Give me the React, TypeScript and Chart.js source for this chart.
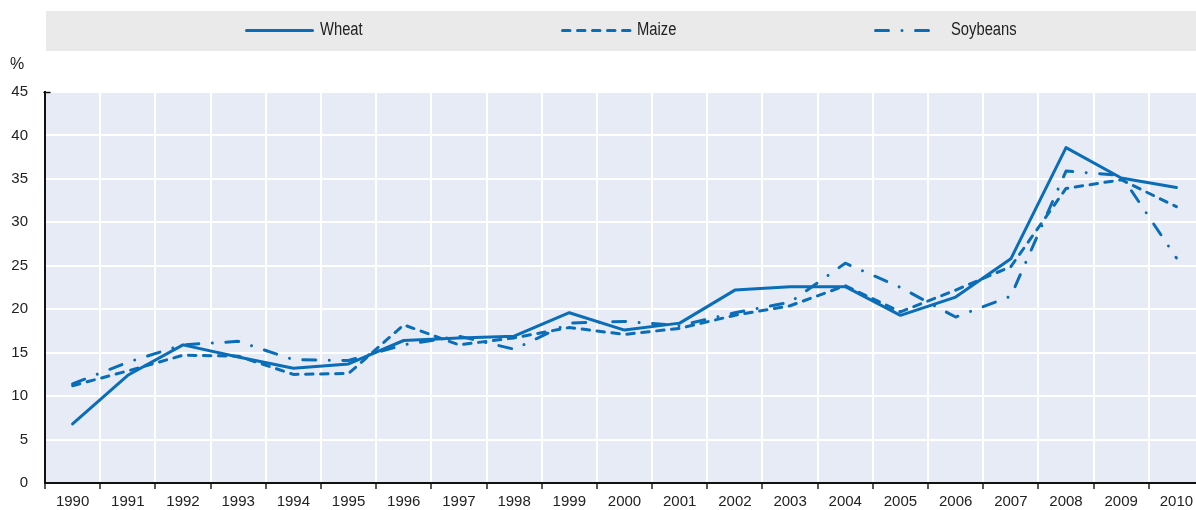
import React, { useEffect, useRef } from "react";
import { Chart, registerables } from "chart.js";

Chart.register(...registerables);

const categories = [
  "1990", "1991", "1992", "1993", "1994", "1995", "1996", "1997", "1998", "1999",
  "2000", "2001", "2002", "2003", "2004", "2005", "2006", "2007", "2008", "2009", "2010",
];
const wheat = [6.8, 12.4, 15.9, 14.5, 13.2, 13.7, 16.4, 16.7, 16.9, 19.6, 17.6, 18.4, 22.2, 22.6, 22.6, 19.3, 21.4, 25.8, 38.6, 35.1, 34.0];
const maize = [11.2, 12.9, 14.7, 14.6, 12.5, 12.6, 18.2, 15.9, 16.7, 17.9, 17.1, 17.8, 19.3, 20.4, 22.7, 19.7, 22.2, 24.9, 33.9, 34.9, 31.8];
const soybeans = [11.4, 13.9, 15.9, 16.3, 14.2, 14.1, 15.9, 16.9, 15.4, 18.4, 18.6, 18.1, 19.6, 20.8, 25.3, 22.5, 19.1, 21.5, 35.9, 35.4, 25.9];
const seriesNames = ["Wheat", "Maize", "Soybeans"];
const yMin = 0;
const yMax = 45;
const yStep = 5;
const unitLabel = "%";

const FONT = '"Liberation Sans Narrow", "Arial Narrow", "Liberation Sans", Arial, sans-serif';
const BLUE = "#0A6DB8";
const TEXT = "#222222";

const legendLayout = [
  { x: 245, len: 69, textX: 320 },
  { x: 561, len: 71, textX: 637 },
  { x: 874, len: 59, textX: 951 },
];

const decorPlugin = {
  id: "decor",
  beforeDraw(chart: any) {
    const { ctx, chartArea } = chart;
    ctx.save();
    ctx.fillStyle = "#ffffff";
    ctx.fillRect(0, 0, chart.width, chart.height);
    ctx.fillStyle = "#EAEAEA";
    ctx.fillRect(46, 11, chart.width - 46, 40);
    ctx.fillStyle = "#E7EBF6";
    ctx.fillRect(chartArea.left, chartArea.top, chartArea.right - chartArea.left, chartArea.bottom - chartArea.top);
    ctx.restore();
  },
  afterDraw(chart: any) {
    const { ctx, chartArea } = chart;
    ctx.save();
    // legend
    chart.data.datasets.forEach((ds: any, i: number) => {
      const L = legendLayout[i];
      const y = 30.5;
      ctx.strokeStyle = ds.borderColor;
      ctx.lineWidth = ds.borderWidth;
      ctx.lineCap = "round";
      ctx.setLineDash(ds.borderDash || []);
      ctx.beginPath();
      ctx.moveTo(L.x + 1.5, y);
      ctx.lineTo(L.x + L.len - 1.5, y);
      ctx.stroke();
      ctx.setLineDash([]);
      ctx.save();
      ctx.translate(L.textX, 30);
      ctx.scale(0.82, 1);
      ctx.fillStyle = TEXT;
      ctx.font = `18px ${FONT}`;
      ctx.textAlign = "left";
      ctx.textBaseline = "middle";
      ctx.fillText(ds.label, 0, 0);
      ctx.restore();
    });
    // unit label
    ctx.fillStyle = TEXT;
    ctx.font = `16px ${FONT}`;
    ctx.textAlign = "left";
    ctx.textBaseline = "middle";
    ctx.fillText(unitLabel, 10, chartArea.top - 27);
    // small stub at top of y axis
    ctx.strokeStyle = "#111";
    ctx.lineWidth = 1.5;
    ctx.beginPath();
    ctx.moveTo(chartArea.left - 1, chartArea.top + 0.5);
    ctx.lineTo(chartArea.left + 5, chartArea.top + 0.5);
    ctx.stroke();
    ctx.restore();
  },
};

export default function App() {
  const canvasRef = useRef<HTMLCanvasElement | null>(null);

  useEffect(() => {
    if (!canvasRef.current) return;
    const chart = new Chart(canvasRef.current, {
      type: "line",
      data: {
        labels: categories,
        datasets: [
          {
            label: seriesNames[0],
            data: wheat,
            borderColor: BLUE,
            borderWidth: 3,
            borderCapStyle: "round",
            borderJoinStyle: "round",
            pointRadius: 0,
            tension: 0,
            fill: false,
          },
          {
            label: seriesNames[1],
            data: maize,
            borderColor: BLUE,
            borderWidth: 3,
            borderDash: [7.5, 7.5],
            borderCapStyle: "round",
            borderJoinStyle: "round",
            pointRadius: 0,
            tension: 0,
            fill: false,
          },
          {
            label: seriesNames[2],
            data: soybeans,
            borderColor: BLUE,
            borderWidth: 3,
            borderDash: [13, 13.5, 0.01, 13.5],
            borderCapStyle: "round",
            borderJoinStyle: "round",
            pointRadius: 0,
            tension: 0,
            fill: false,
          },
        ],
      },
      options: {
        responsive: true,
        maintainAspectRatio: false,
        animation: false,
        layout: { padding: { top: 92, right: 6, bottom: 0, left: 0 } },
        plugins: {
          legend: { display: false },
          tooltip: { enabled: false },
        },
        scales: {
          x: {
            type: "category",
            offset: true,
            grid: {
              offset: true,
              color: "#ffffff",
              lineWidth: 2,
              drawTicks: true,
              tickLength: 6,
              tickColor: "#222222",
              tickWidth: 1.5,
            },
            border: { display: true, color: "#111111", width: 2 },
            ticks: {
              color: TEXT,
              font: { family: FONT, size: 15 },
              padding: 4,
              maxRotation: 0,
              autoSkip: false,
            },
            afterFit(scale: any) {
              scale.height = 27;
            },
          },
          y: {
            min: yMin,
            max: yMax,
            grid: {
              color: "#ffffff",
              lineWidth: 2,
              drawTicks: false,
            },
            border: { display: true, color: "#111111", width: 2 },
            ticks: {
              stepSize: yStep,
              color: TEXT,
              font: { family: FONT, size: 15 },
              padding: 17,
            },
            afterFit(scale: any) {
              scale.width = 45;
            },
          },
        },
      },
      plugins: [decorPlugin],
    });
    return () => chart.destroy();
  }, []);

  return (
    <div style={{ position: "fixed", left: 0, top: 0, width: 1196, height: 510, overflow: "hidden", background: "#fff" }}>
      <div style={{ position: "relative", width: 1210, height: 510 }}>
        <canvas ref={canvasRef} />
      </div>
    </div>
  );
}
